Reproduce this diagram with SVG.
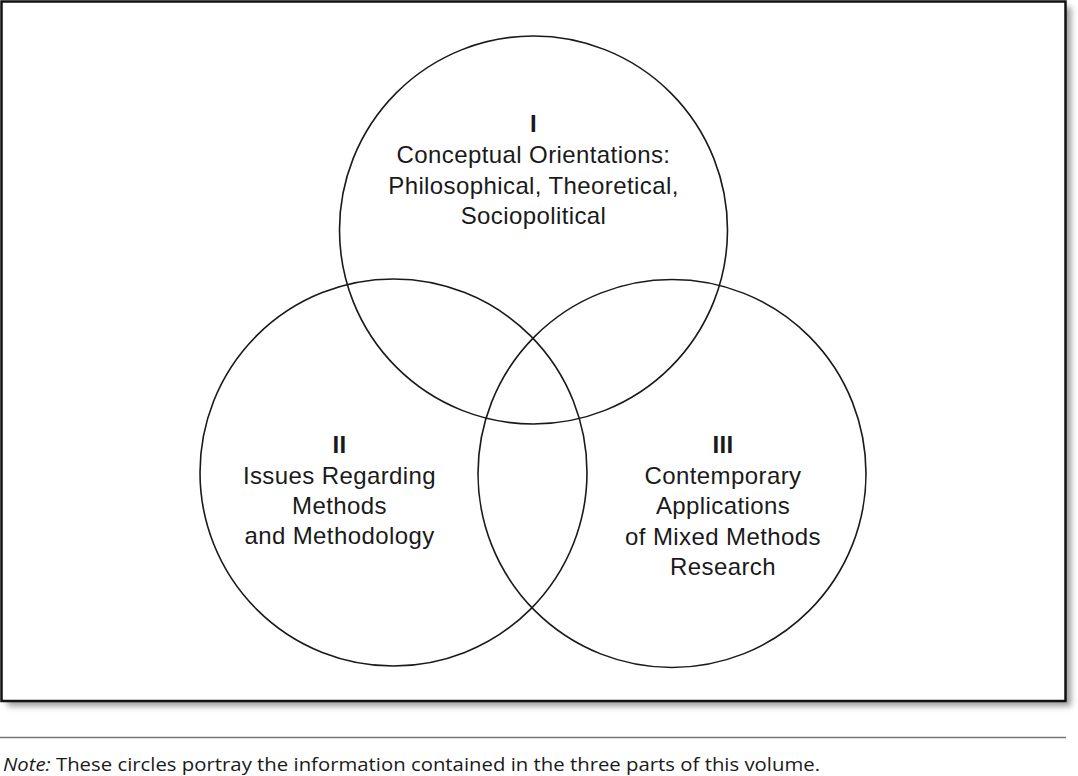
<svg xmlns="http://www.w3.org/2000/svg" width="1078" height="776" viewBox="0 0 1078 776">
<defs>
<filter id="sh" x="-5%" y="-5%" width="110%" height="110%">
<feGaussianBlur stdDeviation="3"/>
</filter>
</defs>
<style>
.c{fill:none;stroke:#1a1a1a;stroke-width:1.6}
.t{font-family:"Liberation Sans",Arial,sans-serif;font-size:24px;letter-spacing:0.4px;fill:#1a1a1a;text-anchor:middle}
.b{font-weight:bold}
.n{font-family:"Open Sans","Noto Sans",sans-serif;font-size:19px;fill:#1a1a1a}
</style>
<rect x="0" y="0" width="1078" height="776" fill="#fff"/>
<rect x="7" y="7" width="1064" height="699" fill="#999" filter="url(#sh)"/>
<rect id="frame" x="1.5" y="1.5" width="1064" height="699.5" fill="#fff" stroke="#111" stroke-width="2.5"/>
<g id="circle1">
<circle class="c" cx="533.5" cy="230" r="194"/>
<text class="t b" x="533.5" y="132">I</text>
<text class="t" x="533.5" y="163">Conceptual Orientations:</text>
<text class="t" x="533.5" y="194">Philosophical, Theoretical,</text>
<text class="t" x="533.5" y="224">Sociopolitical</text>
</g>
<g id="circle2">
<circle class="c" cx="393.5" cy="472.5" r="193.5"/>
<text class="t b" x="339.5" y="453">II</text>
<text class="t" x="339.5" y="484">Issues Regarding</text>
<text class="t" x="339.5" y="514">Methods</text>
<text class="t" x="339.5" y="544">and Methodology</text>
</g>
<g id="circle3">
<circle class="c" cx="672" cy="473.5" r="194"/>
<text class="t b" x="723" y="453">III</text>
<text class="t" x="723" y="484">Contemporary</text>
<text class="t" x="723" y="514">Applications</text>
<text class="t" x="723" y="545">of Mixed Methods</text>
<text class="t" x="723" y="575">Research</text>
</g>
<g id="connectors"></g>
<line x1="0" y1="737.5" x2="1066" y2="737.5" stroke="#777" stroke-width="1.5"/>
<text class="n" x="3" y="771" textLength="817" lengthAdjust="spacingAndGlyphs"><tspan font-style="italic">Note:</tspan> These circles portray the information contained in the three parts of this volume.</text>
</svg>
